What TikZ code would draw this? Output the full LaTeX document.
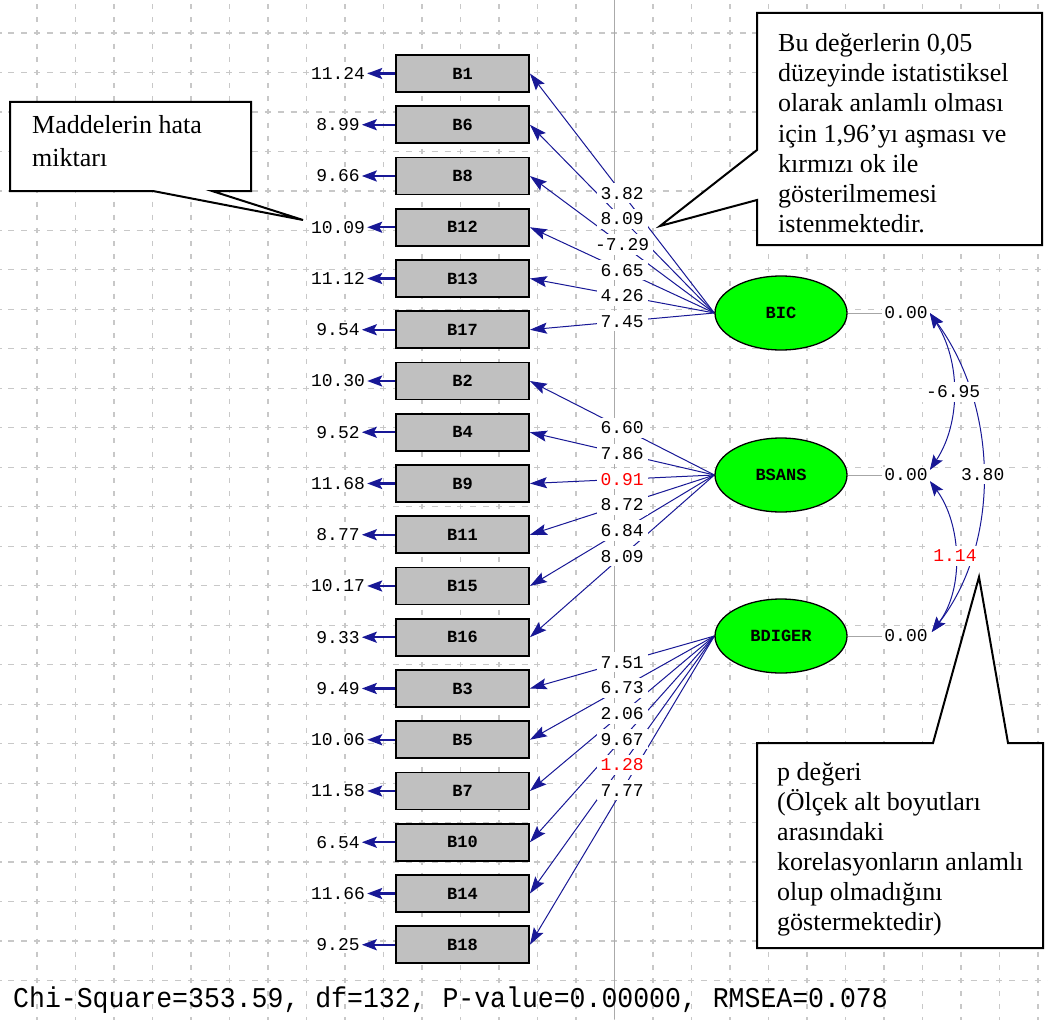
\documentclass[tikz,border=0pt]{standalone}
\usepackage{fontspec}
\setmainfont{Liberation Serif}
\newfontfamily\lismono{Liberation Mono}
\usetikzlibrary{arrows.meta,shapes.geometric,calc}
\pgfdeclarelayer{gridlayer}
\pgfdeclarelayer{edgelayer}
\pgfsetlayers{gridlayer,edgelayer,main}

\definecolor{pathblue}{RGB}{24,24,150}
\definecolor{gridgray}{RGB}{200,200,200}
\definecolor{axisgray}{RGB}{170,170,170}
\definecolor{boxgray}{RGB}{192,192,192}
\definecolor{latgreen}{RGB}{0,255,0}
\definecolor{tred}{RGB}{255,0,0}

\tikzset{
  itembox/.style={draw=black, line width=1.8pt, fill=boxgray, minimum width=133pt,
    minimum height=37pt, inner sep=0pt, font=\lismono\bfseries\fontsize{17}{17}\selectfont},
  latent/.style={ellipse, draw=black, line width=1.3pt, fill=latgreen, minimum width=132pt,
    minimum height=74pt, inner sep=0pt, font=\lismono\bfseries\fontsize{17}{17}\selectfont},
  numlabel/.style={fill=white, inner sep=2pt, text=black, font=\lismono\fontsize{18}{18}\selectfont},
  tval/.style={fill=white, inner xsep=4pt, inner ysep=4pt, text=black, font=\lismono\fontsize{18}{18}\selectfont},
  load/.style={draw=pathblue, line width=1pt, -{Stealth[length=17pt, width=11pt, inset=3pt]}},
  errarrow/.style={draw=pathblue, line width=2.4pt, -{Stealth[length=15pt, width=11pt, inset=3pt]}},
  cov/.style={draw=pathblue, line width=1pt,
    {Stealth[length=15pt, width=11pt, inset=3pt]}-{Stealth[length=15pt, width=11pt, inset=3pt]}},
  zeroline/.style={draw=gray!70, line width=1pt},
  callout/.style={draw=black, line width=2pt, fill=white, line join=miter},
  calltext/.style={align=left, inner sep=0pt, anchor=base west, text=black},
}

\begin{document}
\begin{tikzpicture}[x=1pt, y=-1pt]
\useasboundingbox (0,0) rectangle (1048,1019);

% background grid
\begin{pgfonlayer}{gridlayer}
  \fill[white] (0,0) rectangle (1048,1019);
  \begin{scope}
    \clip (0,0) rectangle (1048,1019);
    \foreach \k in {0,...,26}
      \draw[gridgray, line width=1.2pt, dash pattern=on 5pt off 8.16pt]
        ({37+38.5*\k},-9) -- ({37+38.5*\k},1030);
    \foreach \k in {0,...,24}
      \draw[gridgray, line width=1.2pt, dash pattern=on 6pt off 6.83pt]
        (-4.5,{33+39.48*\k}) -- (1060,{33+39.48*\k});
    \draw[axisgray, line width=1.2pt] (614.5,0) -- (614.5,1019);
  \end{scope}
\end{pgfonlayer}

% observed items with their error variances
\foreach \n/\e [count=\i from 0] in {B1/11.24,B6/8.99,B8/9.66,B12/10.09,B13/11.12,B17/9.54,
    B2/10.30,B4/9.52,B9/11.68,B11/8.77,B15/10.17,B16/9.33,
    B3/9.49,B5/10.06,B7/11.58,B10/6.54,B14/11.66,B18/9.25}{
  \node[itembox] (\n) at (462.5,{73.5+51.25*\i}) {\n};
  \node[numlabel] (e\n) at (338,{73.5+51.25*\i}) {\e};
  \begin{pgfonlayer}{edgelayer}
    \draw[errarrow] (\n.west) -- (e\n.east);
  \end{pgfonlayer}
}

% latent factors
\node[latent] (BIC) at (781,313) {BIC};
\node[latent] (BSANS) at (781,475) {BSANS};
\node[latent] (BDIGER) at (781,636) {BDIGER};

\foreach \f in {BIC,BSANS,BDIGER}{
  \node[numlabel] (z\f) at ($(\f)+(125,0)$) {0.00};
  \begin{pgfonlayer}{edgelayer}
    \draw[zeroline] (\f.east) -- (z\f.west);
  \end{pgfonlayer}
}

% factor loadings (t-values)
\foreach \f/\n/\v in {BIC/B1/3.82, BIC/B6/8.09, BIC/B8/-7.29, BIC/B12/6.65, BIC/B13/4.26, BIC/B17/7.45,
    BSANS/B2/6.60, BSANS/B4/7.86, BSANS/B9/{\textcolor{tred}{0.91}}, BSANS/B11/8.72, BSANS/B15/6.84, BSANS/B16/8.09,
    BDIGER/B3/7.51, BDIGER/B5/6.73, BDIGER/B7/2.06, BDIGER/B10/9.67, BDIGER/B14/{\textcolor{tred}{1.28}}, BDIGER/B18/7.77}{
  \begin{pgfonlayer}{edgelayer}
    \draw[load] (\f.west) -- (\n.east);
  \end{pgfonlayer}
  \path (\f.west) -- node[tval] (t\n) {\v} (\n.east);
}

% factor covariances
\coordinate (cA) at (zBIC.east);
\coordinate (cB1) at ($(zBSANS.east)+(0,-5)$);
\coordinate (cB2) at ($(zBSANS.east)+(0,6)$);
\coordinate (cC) at ($(zBDIGER.east)+(2,-4)$);
\begin{pgfonlayer}{edgelayer}
  \draw[cov] (cA) .. controls (961,361) and (961,423) .. (cB1);
  \draw[cov] (cB2) .. controls (961,523) and (965,588) .. (cC);
  \draw[cov] (cA) .. controls (999,407) and (1001,543) .. (cC);
\end{pgfonlayer}
\path (cA) .. controls (961,361) and (961,423) .. (cB1) node[pos=.5, tval] (rIS) {-6.95};
\path (cB2) .. controls (961,523) and (965,588) .. (cC) node[pos=.5, tval] (rSD) {\textcolor{tred}{1.14}};
\path (cA) .. controls (999,407) and (1001,543) .. (cC) node[pos=.5, tval] (rID) {3.80};

% fit statistics
\node[anchor=base west, inner sep=0pt, yscale=1.08, font=\lismono\fontsize{26.5}{27}\selectfont] (fit)
  at (13,1007) {Chi-Square=353.59, df=132, P-value=0.00000, RMSEA=0.078};

% explanatory callouts (text nodes are placed by the baseline of their last line)
\draw[callout] (10,102) -- (251,102) -- (251,191) -- (212,191) -- (303,220) -- (153,191) -- (10,191) -- cycle;
\node[calltext, font=\fontsize{26}{33}\selectfont] (note1) at (32,167) {Maddelerin hata\\miktarı};

\draw[callout] (757,13) -- (1042,13) -- (1042,245) -- (757,245) -- (757,200) -- (660,226) -- (757,150) -- cycle;
\node[calltext, font=\fontsize{26}{30}\selectfont] (note2) at (778,232)
  {Bu değerlerin 0,05\\düzeyinde istatistiksel\\olarak anlamlı olması\\için 1,96’yı aşması ve\\kırmızı ok ile\\gösterilmemesi\\istenmektedir.};

\draw[callout] (757,743) -- (933,743) -- (979,577) -- (1008,743) -- (1043,743) -- (1043,948) -- (757,948) -- cycle;
\node[calltext, font=\fontsize{26}{30}\selectfont] (note3) at (777,930)
  {p değeri\\(Ölçek alt boyutları\\arasındaki\\korelasyonların anlamlı\\olup olmadığını\\göstermektedir)};
\end{tikzpicture}
\end{document}
